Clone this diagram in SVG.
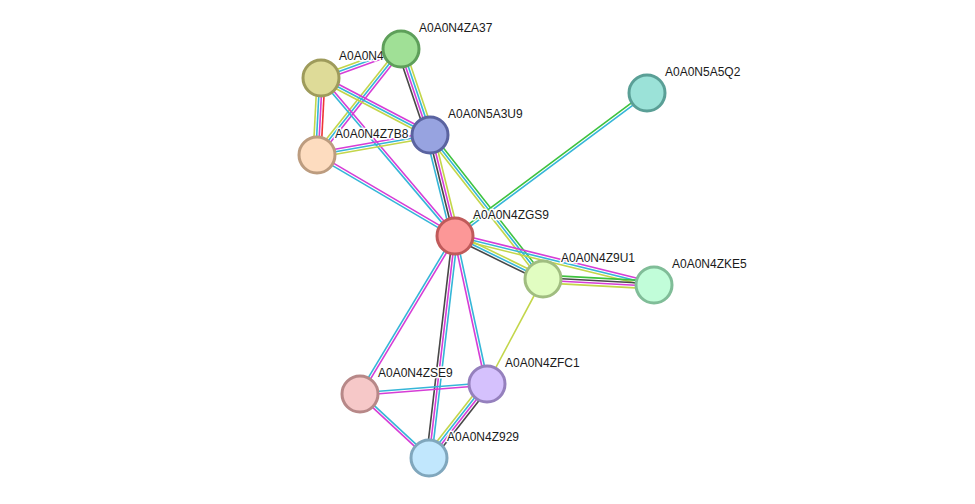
<svg xmlns="http://www.w3.org/2000/svg" width="975" height="504" viewBox="0 0 975 504">
<style>
line{stroke-width:1.6;fill:none}
.ex{stroke:#d63dd6}
.db{stroke:#35b6d8}
.tm{stroke:#c3d64a}
.co{stroke:#484848}
.nb{stroke:#3ec23e}
.fu{stroke:#ee3535}
circle{stroke-width:3}
text{font-family:"Liberation Sans",Arial,sans-serif;font-size:12px;fill:#1a1a1a;stroke:#fff;stroke-width:3;paint-order:stroke;stroke-linejoin:round}
</style>
<rect width="975" height="504" fill="#fff"/>
<g id="edges">
<g transform="translate(401,49) rotate(160.08)"><line class="ex" x2="85.1" y1="-2.6" y2="-2.6"/><line class="db" x2="85.1"/><line class="tm" x2="85.1" y1="2.6" y2="2.6"/></g>
<g transform="translate(401,49) rotate(71.36)"><line class="tm" x2="90.8" y1="-3.9" y2="-3.9"/><line class="db" x2="90.8" y1="-1.3" y2="-1.3"/><line class="ex" x2="90.8" y1="1.3" y2="1.3"/><line class="co" x2="90.8" y1="3.9" y2="3.9"/></g>
<g transform="translate(401,49) rotate(128.38)"><line class="ex" x2="135.3" y1="-2.6" y2="-2.6"/><line class="db" x2="135.3"/><line class="tm" x2="135.3" y1="2.6" y2="2.6"/></g>
<g transform="translate(321,78) rotate(92.97)"><line class="fu" x2="77.1" y1="-3.9" y2="-3.9"/><line class="ex" x2="77.1" y1="-1.3" y2="-1.3"/><line class="db" x2="77.1" y1="1.3" y2="1.3"/><line class="tm" x2="77.1" y1="3.9" y2="3.9"/></g>
<g transform="translate(321,78) rotate(27.61)"><line class="ex" x2="123" y1="-2.6" y2="-2.6"/><line class="db" x2="123"/><line class="tm" x2="123" y1="2.6" y2="2.6"/></g>
<g transform="translate(321,78) rotate(49.70)"><line class="ex" x2="207.2" y1="-1.3" y2="-1.3"/><line class="db" x2="207.2" y1="1.3" y2="1.3"/></g>
<g transform="translate(317,155) rotate(-10.04)"><line class="ex" x2="114.8" y1="-2.6" y2="-2.6"/><line class="db" x2="114.8"/><line class="tm" x2="114.8" y1="2.6" y2="2.6"/></g>
<g transform="translate(317,155) rotate(30.41)"><line class="ex" x2="160" y1="-1.3" y2="-1.3"/><line class="db" x2="160" y1="1.3" y2="1.3"/></g>
<g transform="translate(430,135) rotate(76.10)"><line class="tm" x2="104" y1="-3.9" y2="-3.9"/><line class="ex" x2="104" y1="-1.3" y2="-1.3"/><line class="co" x2="104" y1="1.3" y2="1.3"/><line class="db" x2="104" y1="3.9" y2="3.9"/></g>
<g transform="translate(430,135) rotate(51.88)"><line class="nb" x2="183" y1="-2.6" y2="-2.6"/><line class="db" x2="183"/><line class="tm" x2="183" y1="2.6" y2="2.6"/></g>
<g transform="translate(455,236) rotate(-36.68)"><line class="nb" x2="239.4" y1="-1.3" y2="-1.3"/><line class="db" x2="239.4" y1="1.3" y2="1.3"/></g>
<g transform="translate(455,236) rotate(26.04)"><line class="tm" x2="97.9" y1="-2.6" y2="-2.6"/><line class="db" x2="97.9"/><line class="co" x2="97.9" y1="2.6" y2="2.6"/></g>
<g transform="translate(455,236) rotate(13.83)"><line class="ex" x2="204.9" y1="-2.6" y2="-2.6"/><line class="db" x2="204.9"/><line class="tm" x2="204.9" y1="2.6" y2="2.6"/></g>
<g transform="translate(543,279) rotate(3.09)"><line class="nb" x2="111.2" y1="-3.9" y2="-3.9"/><line class="co" x2="111.2" y1="-1.3" y2="-1.3"/><line class="ex" x2="111.2" y1="1.3" y2="1.3"/><line class="tm" x2="111.2" y1="3.9" y2="3.9"/></g>
<g transform="translate(543,279) rotate(118.07)"><line class="tm" x2="119"/></g>
<g transform="translate(455,236) rotate(121.02)"><line class="ex" x2="184.4" y1="-1.3" y2="-1.3"/><line class="db" x2="184.4" y1="1.3" y2="1.3"/></g>
<g transform="translate(455,236) rotate(96.68)"><line class="db" x2="223.5" y1="-2.6" y2="-2.6"/><line class="ex" x2="223.5"/><line class="co" x2="223.5" y1="2.6" y2="2.6"/></g>
<g transform="translate(455,236) rotate(77.80)"><line class="db" x2="151.4" y1="-1.3" y2="-1.3"/><line class="ex" x2="151.4" y1="1.3" y2="1.3"/></g>
<g transform="translate(360,394) rotate(-4.50)"><line class="db" x2="127.4" y1="-1.3" y2="-1.3"/><line class="ex" x2="127.4" y1="1.3" y2="1.3"/></g>
<g transform="translate(360,394) rotate(42.85)"><line class="db" x2="94.1" y1="-1.3" y2="-1.3"/><line class="ex" x2="94.1" y1="1.3" y2="1.3"/></g>
<g transform="translate(487,384) rotate(128.09)"><line class="co" x2="94" y1="-3.9" y2="-3.9"/><line class="ex" x2="94" y1="-1.3" y2="-1.3"/><line class="db" x2="94" y1="1.3" y2="1.3"/><line class="tm" x2="94" y1="3.9" y2="3.9"/></g>
</g>
<g id="n-A0A0N4"><circle cx="321" cy="78" r="18" fill="#dedb98" stroke="#9e9b5b"/><text x="339" y="60">A0A0N4</text></g>
<g id="n-A0A0N4ZA37"><circle cx="401" cy="49" r="18" fill="#a0e096" stroke="#5e9f5a"/><text x="419" y="32">A0A0N4ZA37</text></g>
<g id="n-A0A0N5A3U9"><circle cx="430" cy="135" r="18" fill="#97a3e0" stroke="#5a63a0"/><text x="448" y="118">A0A0N5A3U9</text></g>
<g id="n-A0A0N4Z7B8"><circle cx="317" cy="155" r="18" fill="#fddcbf" stroke="#bc9c7f"/><text x="335" y="138">A0A0N4Z7B8</text></g>
<g id="n-A0A0N5A5Q2"><circle cx="647" cy="93" r="18" fill="#9be2d8" stroke="#5a9f96"/><text x="665" y="76">A0A0N5A5Q2</text></g>
<g id="n-A0A0N4ZGS9"><circle cx="455" cy="236" r="18" fill="#fc9797" stroke="#c05a5a"/><text x="473" y="219">A0A0N4ZGS9</text></g>
<g id="n-A0A0N4Z9U1"><circle cx="543" cy="279" r="18" fill="#e1fdc1" stroke="#a0bd80"/><text x="561" y="262">A0A0N4Z9U1</text></g>
<g id="n-A0A0N4ZKE5"><circle cx="654" cy="285" r="18" fill="#c1fdd9" stroke="#80bd98"/><text x="672" y="268">A0A0N4ZKE5</text></g>
<g id="n-A0A0N4ZSE9"><circle cx="360" cy="394" r="18" fill="#f6c8c8" stroke="#b78888"/><text x="378" y="377">A0A0N4ZSE9</text></g>
<g id="n-A0A0N4ZFC1"><circle cx="487" cy="384" r="18" fill="#d5c1fd" stroke="#9580bd"/><text x="505" y="367">A0A0N4ZFC1</text></g>
<g id="n-A0A0N4Z929"><circle cx="429" cy="458" r="18" fill="#c1e7fd" stroke="#80a7bd"/><text x="447" y="441">A0A0N4Z929</text></g>
</svg>
